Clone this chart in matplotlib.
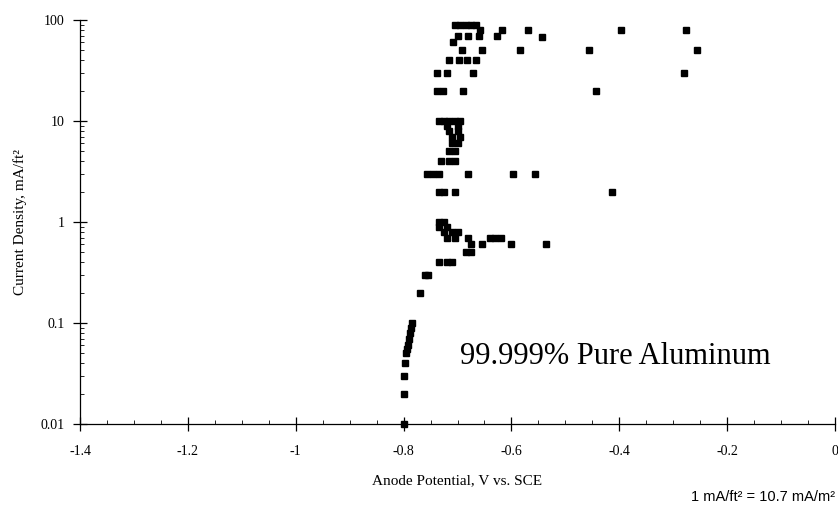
import matplotlib
matplotlib.use("Agg")
import matplotlib.pyplot as plt
from matplotlib.ticker import FixedLocator, MultipleLocator, LogLocator, NullFormatter

# anode potential (V vs SCE) and current density (mA/ft2)
potencial = [
    -0.705, -0.695, -0.685, -0.675, -0.665,
    -0.658, -0.617, -0.569, -0.397, -0.276,
    -0.699, -0.681, -0.660, -0.627, -0.543,
    -0.708,
    -0.692, -0.655, -0.584, -0.456, -0.256,
    -0.716, -0.697, -0.682, -0.665,
    -0.738, -0.719, -0.671, -0.280,
    -0.738, -0.726, -0.690, -0.443,
    -0.735, -0.725, -0.715, -0.705, -0.695,
    -0.720, -0.700, -0.715, -0.700, -0.710, -0.695,
    -0.710, -0.700, -0.715, -0.705,
    -0.730, -0.715, -0.705,
    -0.757, -0.745, -0.735, -0.680, -0.597, -0.556,
    -0.735, -0.725, -0.705, -0.414,
    -0.735, -0.725, -0.735, -0.720, -0.725, -0.710, -0.700,
    -0.720, -0.705, -0.680, -0.675, -0.685, -0.675,
    -0.655, -0.640, -0.630, -0.620, -0.600, -0.535,
    -0.735, -0.720, -0.710, -0.760, -0.755, -0.770,
    -0.784, -0.786, -0.788, -0.790, -0.792, -0.794, -0.796,
    -0.798, -0.799, -0.800, -0.800,
]
densidade = [
    90, 90, 90, 90, 90,
    80, 80, 80, 80, 80,
    70, 70, 70, 70, 68,
    60,
    50, 50, 50, 50, 50,
    40, 40, 40, 40,
    30, 30, 30, 30,
    20, 20, 20, 20,
    10, 10, 10, 10, 10,
    9, 9, 8, 8, 7, 7,
    6, 6, 5, 5,
    4, 4, 4,
    3, 3, 3, 3, 3, 3,
    2, 2, 2, 2,
    1.0, 1.0, 0.9, 0.9, 0.8, 0.8, 0.8,
    0.7, 0.7, 0.7, 0.6, 0.5, 0.5,
    0.6, 0.7, 0.7, 0.7, 0.6, 0.6,
    0.4, 0.4, 0.4, 0.3, 0.3, 0.2,
    0.1, 0.09, 0.08, 0.07, 0.06, 0.055, 0.05,
    0.04, 0.03, 0.02, 0.01,
]

x_ticks = [-1.4, -1.2, -1.0, -0.8, -0.6, -0.4, -0.2, 0.0]
x_labels = ["-1.4", "-1.2", "-1", "-0.8", "-0.6", "-0.4", "-0.2", "0"]
y_ticks = [0.01, 0.1, 1, 10, 100]
y_labels = ["0.01", "0.1", "1", "10", "100"]

serif = ["Liberation Serif", "DejaVu Serif"]

fig = plt.figure(figsize=(8.38, 5.13), dpi=100)
ax = fig.add_axes([80 / 838, 1 - 424 / 513, 755 / 838, 404 / 513])

ax.plot(potencial, densidade, linestyle="none", marker="s", ms=5,
        color="black", clip_on=False)

ax.set_yscale("log")
ax.set_xlim(-1.4, 0)
ax.set_ylim(0.01, 100)

ax.spines["top"].set_visible(False)
ax.spines["right"].set_visible(False)
ax.spines["left"].set_linewidth(0.9)
ax.spines["bottom"].set_linewidth(0.9)

ax.xaxis.set_major_locator(FixedLocator(x_ticks))
ax.set_xticklabels(x_labels, family=serif, fontsize=10)
ax.xaxis.set_minor_locator(MultipleLocator(0.05))
ax.yaxis.set_major_locator(FixedLocator(y_ticks))
ax.set_yticklabels(y_labels, family=serif, fontsize=10)
ax.yaxis.set_minor_locator(LogLocator(base=10, subs=range(2, 10)))
ax.yaxis.set_minor_formatter(NullFormatter())

ax.tick_params(which="major", direction="inout", length=10, width=0.9, pad=6)
ax.tick_params(which="minor", direction="in", length=3, width=0.6)
ax.tick_params(axis="x", which="major", pad=10)

ax.set_xlabel("Anode Potential, V vs. SCE", family=serif, fontsize=11, labelpad=12)
ax.set_ylabel("Current Density, mA/ft²", family=serif, fontsize=11, labelpad=10)

ax.text(0.503, 0.168, "99.999% Pure Aluminum", transform=ax.transAxes,
        family=serif, fontsize=22, va="center", ha="left")

fig.text(835 / 838, 1 - 497 / 513, "1 mA/ft² = 10.7 mA/m²", ha="right",
         va="center", fontsize=10.5, family=["Liberation Sans", "DejaVu Sans"])

fig.savefig("out.png", dpi=100, facecolor="white")
